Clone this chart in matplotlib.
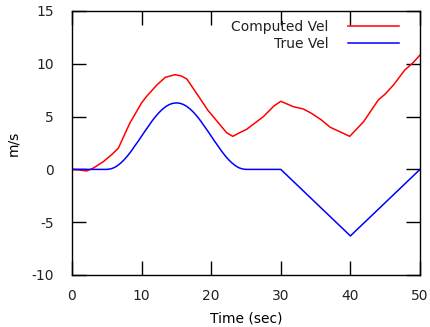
import matplotlib
matplotlib.use("Agg")
import matplotlib.pyplot as plt

# 数据
t_true = [0, 5, 5.5, 6, 6.5, 7, 7.5, 8, 8.5, 9, 9.5, 10, 10.5, 11, 11.5,
          12, 12.5, 13, 13.5, 14, 14.5, 15, 15.5, 16, 16.5, 17, 17.5, 18,
          18.5, 19, 19.5, 20, 20.5, 21, 21.5, 22, 22.5, 23, 23.5, 24, 24.5,
          25, 30, 40, 50]
v_true = [0, 0, 0.04, 0.15, 0.34, 0.6, 0.92, 1.3, 1.72, 2.2, 2.66, 3.15,
          3.64, 4.1, 4.58, 5.0, 5.38, 5.7, 5.96, 6.15, 6.26, 6.3, 6.26,
          6.15, 5.96, 5.7, 5.38, 5.0, 4.58, 4.1, 3.64, 3.15, 2.66, 2.2,
          1.72, 1.3, 0.92, 0.6, 0.34, 0.15, 0.04, 0, 0, -6.3, 0]

t_comp = [0, 1, 2.1, 3, 4.5, 5.7, 6.65, 8.3, 10.0, 10.7, 12.2, 13.4, 14.8,
          15.7, 16.5, 17.9, 19.5, 21.3, 22.2, 23.1, 24.1, 25.1, 25.6, 27.5,
          29.0, 30.0, 31.8, 33.25, 34.4, 35.8, 37.1, 38.7, 39.9, 41.9, 44.0,
          45.0, 46.2, 47.8, 49.0, 50.0]
v_comp = [0, -0.05, -0.15, 0.1, 0.73, 1.4, 2.0, 4.37, 6.3, 6.9, 8.0, 8.72,
          8.97, 8.85, 8.56, 7.2, 5.62, 4.2, 3.48, 3.13, 3.48, 3.8, 4.05, 5.0,
          6.0, 6.45, 5.94, 5.72, 5.31, 4.7, 3.99, 3.5, 3.13, 4.52, 6.57,
          7.14, 8.0, 9.4, 10.1, 10.83]

x_ticks = [0, 10, 20, 30, 40, 50]
y_ticks = [-10, -5, 0, 5, 10, 15]

plt.rcParams['font.family'] = ['DejaVu Sans']
plt.rcParams['font.size'] = 10
plt.rcParams['text.color'] = '#222222'
plt.rcParams['axes.unicode_minus'] = False

fig = plt.figure(figsize=(4.3, 3.27), dpi=100)
ax = fig.add_axes([72 / 430, 52 / 327, 348 / 430, 264 / 327])

ax.plot(t_comp, v_comp, color='#ff0000', lw=1.1, label='Computed Vel')
ax.plot(t_true, v_true, color='#0000ff', lw=1.1, label='True Vel')

ax.set_xlim(0, 50)
ax.set_ylim(-10, 15)
ax.set_xticks(x_ticks)
ax.set_yticks(y_ticks)
ax.tick_params(direction='in', length=10, width=1.0, top=True, right=True,
               labelcolor='#222222', labelsize=10)
ax.tick_params(axis='y', pad=13)
ax.tick_params(axis='x', pad=10)
for s in ax.spines.values():
    s.set_linewidth(1.0)

ax.set_xlabel('Time (sec)', labelpad=6)
ax.set_ylabel('m/s', labelpad=8)

ax.legend(loc='upper right', bbox_to_anchor=(399 / 430, 1 - 20 / 327),
          bbox_transform=fig.transFigure, frameon=False, markerfirst=False,
          handlelength=3.7, handletextpad=1.4, labelspacing=0.2,
          borderpad=0, borderaxespad=0)

fig.savefig('out.png', dpi=100)
